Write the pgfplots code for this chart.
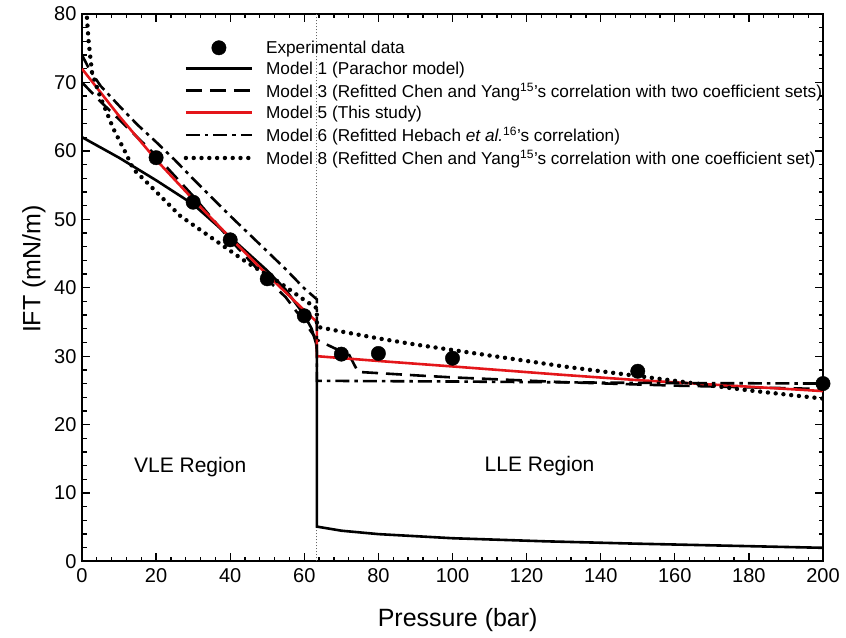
\documentclass[border=0pt]{standalone}
\usepackage{pgfplots}
\pgfplotsset{compat=1.18}
\usepackage{fontspec}
\setmainfont{Liberation Sans}
\definecolor{myred}{RGB}{228,22,26}
\begin{document}
\begin{tikzpicture}
\begin{axis}[
  name=ax,
  scale only axis,
  width=741pt, height=547.5pt,
  xmin=0, xmax=200, ymin=0, ymax=80,
  xtick={0,20,...,200}, ytick={0,10,...,80},
  minor x tick num=4, minor y tick num=4,
  tick align=inside,
  major tick length=8pt, minor tick length=4.5pt,
  every tick/.style={black, line width=1.3pt},
  axis line style={line width=2pt},
  /pgf/number format/assume math mode=true,
  tick label style={font=\fontsize{20}{24}\selectfont},
  xticklabel style={yshift=-4pt},
  yticklabel style={xshift=-2pt},
  xlabel={Pressure (bar)}, ylabel={IFT (mN/m)},
  label style={font=\fontsize{25}{30}\selectfont},
  xlabel style={at={(axis description cs:0.507,-0.107)}, anchor=center},
  ylabel style={at={(axis description cs:-0.065,0.534)}, anchor=center},
  clip=true,
  legend style={draw=none, fill=none, at={(axis description cs:0.137,0.955)}, anchor=north west,
    font=\fontsize{17.2}{19}\selectfont, row sep=3pt, inner sep=0pt,
    cells={anchor=west},
    /tikz/every odd column/.append style={column sep=10pt}},
  legend image code/.code={\draw[#1, mark repeat=2, mark phase=2] (0pt,0pt) -- (33pt,0pt) -- (66pt,0pt);},
]
% vertical separator
\addplot[gray!80!black, line width=0.9pt, dash pattern=on 1.2pt off 1.8pt, forget plot] coordinates {(63.4,0) (63.4,80)};

\addplot[only marks, mark=*, mark size=7.2pt, black,
  legend image code/.code={\fill[black] (33pt,0pt) circle (7.2pt);}] coordinates {
(20,59.0) (30,52.5) (40,47.0) (50,41.3) (60,35.9) (70,30.3) (80,30.4) (100,29.7) (150,27.8) (200,26.0)};
\addlegendentry{Experimental data}

% Model 1
\addplot[black, line width=2.6pt] coordinates {
(0,62.0) (10,59.0) (20,55.7) (30,52.2) (40,47.4) (50,42.5) (55,39.7) (60,36.0) (62,34.0) (63.2,31.8) (63.4,30.5)
(63.4,5.1) (70,4.5) (80,4.0) (100,3.4) (125,2.95) (150,2.6) (175,2.3) (200,2.0)};
\addlegendentry{Model 1 (Parachor model)}

% Model 3
\addplot[black, line width=2.6pt, dash pattern=on 16pt off 8pt] coordinates {
(0,70.0) (5,67.2) (10,64.6) (20,59.3) (30,53.4) (40,47.0) (50,41.2) (55,38.6) (60,35.0) (63.4,32.4)
(68,31.2) (72,30.3) (74.5,27.7) (90,27.2) (100,26.9) (130,26.2) (160,25.7) (200,25.2)};
\addlegendentry{Model 3 (Refitted Chen and Yang\textsuperscript{15}'s correlation with two coefficient sets)}

% Model 5
\addplot[myred, line width=2.6pt] coordinates {
(0,72.0) (10,65.1) (20,58.7) (30,52.9) (40,47.3) (50,41.9) (60,36.7) (63.4,35.0)
(63.4,30.0) (80,29.3) (100,28.5) (129,27.3) (150,26.5) (200,24.9)};
\addlegendentry{Model 5 (This study)}

% Model 6
\addplot[black, line width=2.6pt, dash pattern=on 14pt off 5pt on 3.5pt off 5pt] coordinates {
(0,74.0) (2,71.9) (5,69.5) (10,66.6) (15,63.8) (20,61.3) (25,58.7) (30,55.9) (40,50.5) (50,45.3) (55,42.7) (60,39.9) (63.4,38.3)
(63.4,26.4) (100,26.3) (150,26.1) (200,26.0)};
\addlegendentry{Model 6 (Refitted Hebach \textit{et al.}\textsuperscript{16}'s correlation)}

% Model 8
\addplot[black, line width=4.4pt, line cap=round, dash pattern=on 0pt off 7.8pt] coordinates {
(1.0,84) (1.35,79.3) (1.8,75.9) (2.7,71.5) (4.5,68.5) (6.3,66.1) (8.5,63.2) (11.7,59.8) (13.9,57.3) (17.5,55.4) (26.5,50.5) (35.5,47.1) (44.5,43.7) (53.5,40.7) (60,38.2) (63.4,37.0)
(63.4,34.3) (70,33.6) (80,32.6) (90,31.7) (100,30.9) (110,30.1) (120,29.3) (130,28.5) (140,27.8) (150,27.1) (160,26.4) (170,25.7) (180,25.0) (190,24.4) (200,23.8)};
\addlegendentry{Model 8 (Refitted Chen and Yang\textsuperscript{15}'s correlation with one coefficient set)}

\node[font=\fontsize{21}{24}\selectfont] at (axis cs:29.2,13.8) {VLE Region};
\node[font=\fontsize{21}{24}\selectfont] at (axis cs:123.5,13.9) {LLE Region};
\end{axis}
\pgfresetboundingbox
\path ([shift={(-82pt,-76.5pt)}]ax.south west) rectangle ([shift={(23pt,14pt)}]ax.north east);
\end{tikzpicture}
\end{document}
